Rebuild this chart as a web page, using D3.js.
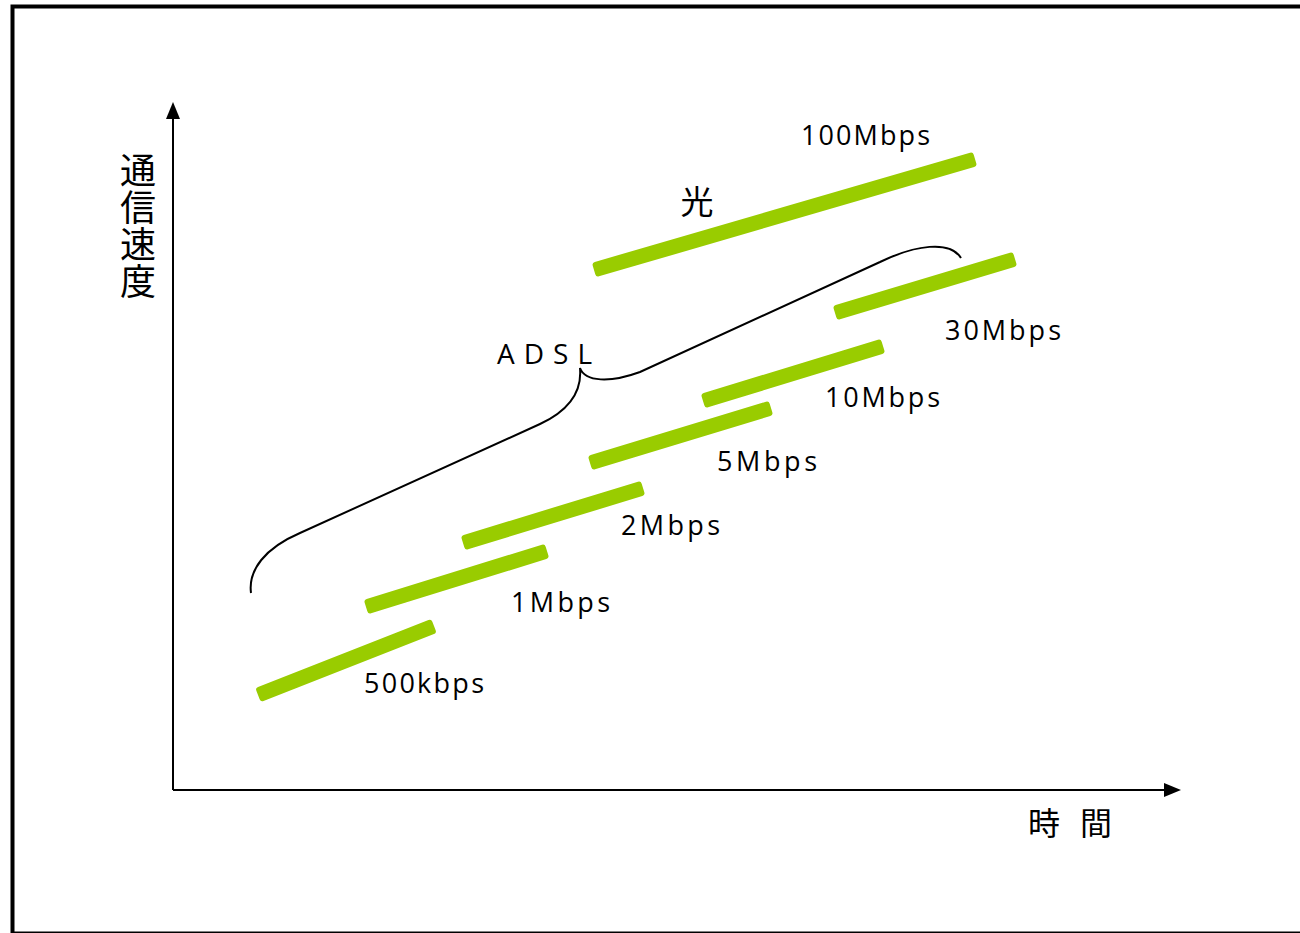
<!DOCTYPE html>
<html>
<head>
<meta charset="utf-8">
<script src="https://cdn.jsdelivr.net/npm/d3@7"></script>
<style>
  body { margin: 0; background: #fff; }
  svg { display: block; }
</style>
</head>
<body>
<script>
// bars: time start/end, speed start/end (abstract units)
var labels    = ["500kbps", "1Mbps", "2Mbps", "5Mbps", "10Mbps", "30Mbps", "100Mbps"];
var timeStart = [85, 193, 290, 417, 530, 662, 421];
var timeEnd   = [261, 374, 470, 598, 710, 842, 802];
var spdStart  = [95, 183, 247, 327, 389, 477, 520];
var spdEnd    = [164, 239, 302, 382, 444, 531, 631];

// where each label sits (same units)
var labelT = [191, 338, 448, 544, 652, 772, 628];
var labelS = [97, 178, 255, 319, 383, 450, 645];
var labelW = [120, 99, 99, 100, 115, 116, 129];

// brace around the ADSL bars
var braceT = [78, 75, 92, 127, 367, 397, 409, 407, 412, 437, 467, 707, 742, 777, 788];
var braceS = [197, 220, 242, 257, 366, 380, 400, 422, 408, 407, 418, 528, 545, 550, 532];

var width = 1300, height = 933;
var ox = 173, oy = 790;

var svg = d3.select("body").append("svg")
  .attr("width", width)
  .attr("height", height);

var x = d3.scaleLinear().domain([0, 1000]).range([ox, ox + 1000]);
var y = d3.scaleLinear().domain([0, 700]).range([oy, oy - 700]);

// outer frame
svg.append("rect")
  .attr("x", 12.5).attr("y", 6.5)
  .attr("width", 1400).attr("height", 927)
  .attr("fill", "none").attr("stroke", "#000").attr("stroke-width", 4);

// axes with arrows
svg.append("line")
  .attr("x1", x(0)).attr("y1", y(0)).attr("x2", x(0)).attr("y2", y(672))
  .attr("stroke", "#000").attr("stroke-width", 2);
svg.append("path")
  .attr("d", "M" + x(0) + "," + y(688) + "l-7,17h14z")
  .attr("fill", "#000");
svg.append("line")
  .attr("x1", x(0)).attr("y1", y(0)).attr("x2", x(993)).attr("y2", y(0))
  .attr("stroke", "#000").attr("stroke-width", 2);
svg.append("path")
  .attr("d", "M" + x(1008) + "," + y(0) + "l-17,-7v14z")
  .attr("fill", "#000");

// bars
var bars = labels.map(function(d, i) {
  return {x1: x(timeStart[i]), y1: y(spdStart[i]), x2: x(timeEnd[i]), y2: y(spdEnd[i])};
});
var thick = 15;
svg.append("g").selectAll("rect")
  .data(bars)
  .join("rect")
  .attr("x", 0)
  .attr("y", -thick / 2)
  .attr("width", function(d) { return Math.hypot(d.x2 - d.x1, d.y2 - d.y1); })
  .attr("height", thick)
  .attr("rx", 3)
  .attr("fill", "#99cc00")
  .attr("transform", function(d) {
    var a = Math.atan2(d.y2 - d.y1, d.x2 - d.x1) * 180 / Math.PI;
    return "translate(" + d.x1 + "," + d.y1 + ") rotate(" + a + ")";
  });

// brace
var p = d3.path();
p.moveTo(x(braceT[0]), y(braceS[0]));
p.bezierCurveTo(x(braceT[1]), y(braceS[1]), x(braceT[2]), y(braceS[2]), x(braceT[3]), y(braceS[3]));
p.lineTo(x(braceT[4]), y(braceS[4]));
p.bezierCurveTo(x(braceT[5]), y(braceS[5]), x(braceT[6]), y(braceS[6]), x(braceT[7]), y(braceS[7]));
p.bezierCurveTo(x(braceT[8]), y(braceS[8]), x(braceT[9]), y(braceS[9]), x(braceT[10]), y(braceS[10]));
p.lineTo(x(braceT[11]), y(braceS[11]));
p.bezierCurveTo(x(braceT[12]), y(braceS[12]), x(braceT[13]), y(braceS[13]), x(braceT[14]), y(braceS[14]));
svg.append("path")
  .attr("d", p.toString())
  .attr("fill", "none").attr("stroke", "#000").attr("stroke-width", 2);

// speed labels
var font = "'Open Sans', 'Noto Sans', sans-serif";
svg.append("g").selectAll("text")
  .data(labels)
  .join("text")
  .attr("x", function(d, i) { return x(labelT[i]); })
  .attr("y", function(d, i) { return y(labelS[i]); })
  .attr("textLength", function(d, i) { return labelW[i]; })
  .attr("lengthAdjust", "spacing")
  .attr("font-family", font)
  .attr("font-size", 27)
  .attr("fill", "#000")
  .text(function(d) { return d; });

svg.append("text")
  .attr("x", x(324)).attr("y", y(426))
  .attr("textLength", 95).attr("lengthAdjust", "spacing")
  .attr("font-family", font).attr("font-size", 28)
  .text("ADSL");

var cjk = "'Noto Sans CJK JP', sans-serif";
svg.append("text")
  .attr("x", x(524)).attr("y", y(590))
  .attr("text-anchor", "middle").attr("dominant-baseline", "central")
  .attr("font-family", cjk).attr("font-size", 33)
  .text("光");

// axis titles
svg.append("text")
  .attr("x", 138)
  .attr("y", 152)
  .attr("writing-mode", "vertical-rl")
  .attr("letter-spacing", 1)
  .attr("font-family", cjk).attr("font-size", 36)
  .text("通信速度");

svg.append("text")
  .attr("x", 1028)
  .attr("y", 821)
  .attr("dominant-baseline", "central")
  .attr("textLength", 84).attr("lengthAdjust", "spacing")
  .attr("font-family", cjk).attr("font-size", 32)
  .text("時間");
</script>
</body>
</html>
